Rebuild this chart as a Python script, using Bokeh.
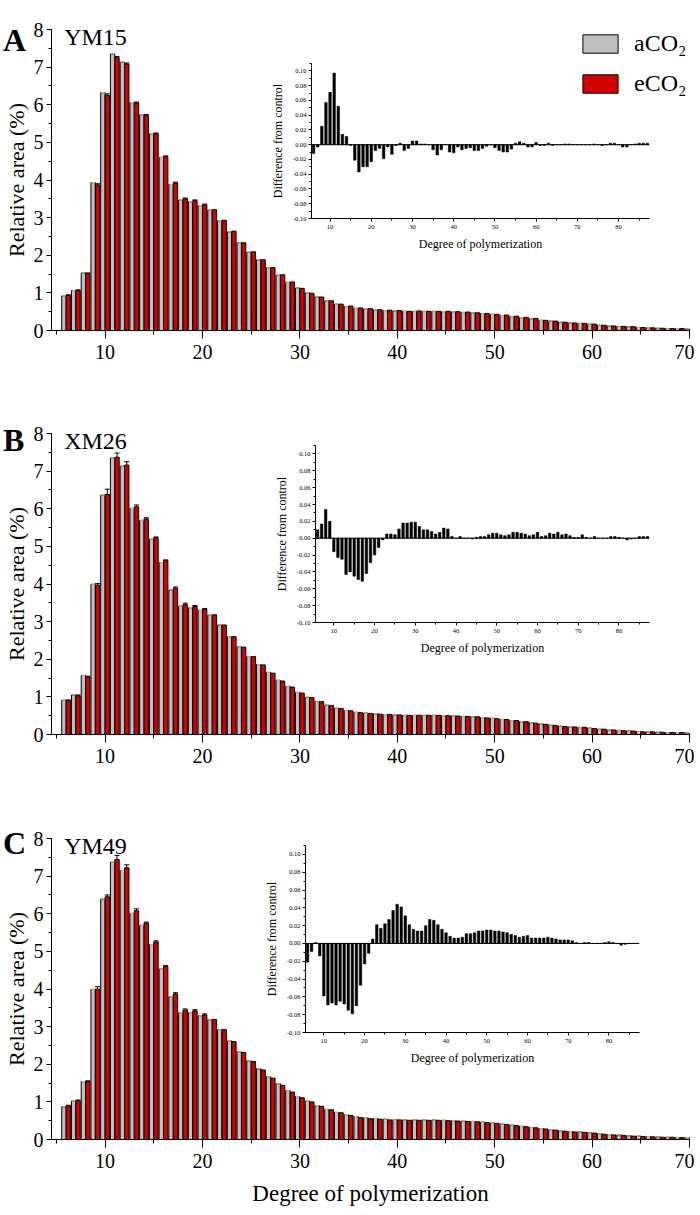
from bokeh.plotting import figure
from bokeh.models import (ColumnDataSource, Range1d, SingleIntervalTicker, NumeralTickFormatter,
                          Label, Legend, LegendItem, Span, GridBox, Whisker, TeeHead, Div)
from bokeh.transform import dodge
from bokeh.embed import file_html
from bokeh.resources import INLINE

FONT = "Liberation Serif"
GRAY = "#c0c0c0"
RED = "#d40000"

# degree of polymerization shown in the main panels / in the insets
dp = list(range(6, 71))
dp_inset = list(range(6, 88))

# relative area (%) -- panel A, YM15
A_gray = [0.92, 1.06, 1.53, 3.93, 6.32, 7.35, 7.13, 6.06, 5.73, 5.23,
          4.60, 3.88, 3.47, 3.42, 3.32, 3.20, 2.92, 2.62, 2.33, 2.08,
          1.88, 1.67, 1.47, 1.28, 1.13, 1.00, 0.89, 0.79, 0.70, 0.64,
          0.59, 0.57, 0.55, 0.53, 0.52, 0.51, 0.51, 0.51, 0.51, 0.50,
          0.49, 0.48, 0.47, 0.45, 0.43, 0.40, 0.37, 0.34, 0.31, 0.27,
          0.25, 0.22, 0.20, 0.19, 0.17, 0.14, 0.12, 0.11, 0.10, 0.08,
          0.07, 0.06, 0.05, 0.05, 0.04]
A_red = [0.93, 1.06, 1.51, 3.87, 6.25, 7.25, 7.08, 6.05, 5.72, 5.23,
         4.62, 3.92, 3.50, 3.45, 3.34, 3.21, 2.93, 2.64, 2.33, 2.09,
         1.88, 1.67, 1.48, 1.29, 1.12, 0.99, 0.89, 0.79, 0.70, 0.65,
         0.60, 0.58, 0.55, 0.54, 0.53, 0.51, 0.52, 0.51, 0.51, 0.51,
         0.50, 0.49, 0.47, 0.45, 0.43, 0.41, 0.38, 0.35, 0.32, 0.27,
         0.25, 0.22, 0.20, 0.19, 0.17, 0.14, 0.12, 0.11, 0.10, 0.08,
         0.07, 0.06, 0.05, 0.05, 0.04]
A_err = [0.02, 0.02, 0.02, 0.03, 0.04, 0.03, 0.03, 0.02, 0.02, 0.02,
         0.02, 0.02, 0.02, 0.02, 0.02]   # DP 6-20, eCO2
A_diff = [-0.012, -0.003, 0.025, 0.057, 0.071, 0.097, 0.052, 0.014, 0.011, -0.001,
          -0.021, -0.037, -0.030, -0.030, -0.023, -0.008, -0.005, -0.019, -0.003, -0.013,
          -0.001, 0.002, -0.008, -0.005, 0.005, 0.005, 0.001, 0.001, 0.000, -0.007,
          -0.014, -0.007, 0.000, -0.010, -0.011, -0.003, -0.007, -0.005, -0.004, -0.008,
          -0.008, -0.005, -0.002, 0.000, -0.004, -0.008, -0.010, -0.010, -0.006, 0.002,
          0.004, 0.002, -0.003, -0.003, 0.003, -0.001, -0.001, 0.002, -0.001, 0.000,
          0.000, 0.001, 0.001, 0.000, 0.000, 0.000, 0.000, 0.000, 0.001, 0.000,
          -0.001, 0.000, 0.002, 0.002, 0.000, -0.003, -0.003, 0.000, 0.001, 0.002,
          0.002, 0.002]

# panel B, XM26
B_gray = [0.91, 1.05, 1.57, 3.99, 6.36, 7.35, 7.13, 6.01, 5.69, 5.19,
          4.57, 3.84, 3.41, 3.37, 3.30, 3.17, 2.91, 2.60, 2.33, 2.07,
          1.86, 1.65, 1.44, 1.28, 1.12, 0.99, 0.88, 0.78, 0.70, 0.64,
          0.59, 0.57, 0.55, 0.53, 0.52, 0.51, 0.51, 0.51, 0.51, 0.50,
          0.49, 0.48, 0.47, 0.45, 0.43, 0.40, 0.37, 0.34, 0.31, 0.28,
          0.25, 0.22, 0.20, 0.19, 0.17, 0.14, 0.12, 0.11, 0.10, 0.08,
          0.07, 0.06, 0.05, 0.05, 0.04]
B_red = [0.90, 1.03, 1.53, 3.97, 6.38, 7.37, 7.16, 6.05, 5.73, 5.23,
         4.62, 3.89, 3.45, 3.40, 3.32, 3.18, 2.91, 2.60, 2.32, 2.07,
         1.85, 1.63, 1.42, 1.26, 1.10, 0.98, 0.87, 0.77, 0.69, 0.63,
         0.58, 0.56, 0.54, 0.53, 0.52, 0.51, 0.51, 0.51, 0.51, 0.50,
         0.49, 0.48, 0.47, 0.44, 0.42, 0.40, 0.37, 0.34, 0.30, 0.27,
         0.24, 0.21, 0.20, 0.19, 0.16, 0.14, 0.12, 0.10, 0.09, 0.07,
         0.07, 0.06, 0.05, 0.05, 0.04]
B_err = [0.02, 0.02, 0.02, 0.04, 0.14, 0.11, 0.09, 0.05, 0.03, 0.02,
         0.02, 0.03, 0.04, 0.03, 0.03]
B_diff = [0.010, 0.017, 0.034, 0.020, -0.016, -0.023, -0.025, -0.043, -0.040, -0.045,
          -0.049, -0.051, -0.042, -0.029, -0.020, -0.011, -0.002, 0.005, 0.005, 0.004,
          0.011, 0.018, 0.018, 0.019, 0.019, 0.014, 0.010, 0.010, 0.008, 0.005,
          0.007, 0.012, 0.011, 0.002, 0.000, 0.002, 0.000, 0.000, -0.001, 0.001,
          0.002, 0.002, 0.004, 0.006, 0.006, 0.004, 0.003, 0.004, 0.007, 0.007,
          0.006, 0.005, 0.003, 0.004, 0.007, 0.002, 0.003, 0.006, 0.005, 0.007,
          0.004, 0.005, 0.003, 0.001, 0.001, 0.004, 0.001, 0.000, 0.002, 0.000,
          0.000, 0.000, 0.002, 0.002, 0.001, 0.000, -0.002, -0.001, 0.000, 0.002,
          0.002, 0.002]

# panel C, YM49
C_gray = [0.87, 1.02, 1.54, 3.99, 6.39, 7.37, 7.15, 6.01, 5.69, 5.18,
          4.53, 3.79, 3.37, 3.37, 3.29, 3.18, 2.92, 2.62, 2.33, 2.09,
          1.88, 1.67, 1.48, 1.30, 1.14, 1.02, 0.90, 0.80, 0.72, 0.66,
          0.61, 0.58, 0.56, 0.54, 0.53, 0.52, 0.52, 0.52, 0.52, 0.51,
          0.50, 0.49, 0.48, 0.46, 0.44, 0.41, 0.38, 0.35, 0.32, 0.29,
          0.26, 0.23, 0.21, 0.20, 0.18, 0.15, 0.13, 0.12, 0.10, 0.09,
          0.08, 0.07, 0.06, 0.05, 0.05]
C_red = [0.89, 1.03, 1.54, 4.00, 6.45, 7.44, 7.22, 6.08, 5.75, 5.25,
         4.60, 3.87, 3.44, 3.42, 3.31, 3.19, 2.92, 2.60, 2.31, 2.07,
         1.85, 1.63, 1.44, 1.26, 1.11, 1.00, 0.88, 0.79, 0.71, 0.64,
         0.58, 0.55, 0.54, 0.52, 0.52, 0.51, 0.51, 0.51, 0.51, 0.50,
         0.49, 0.48, 0.47, 0.45, 0.43, 0.40, 0.37, 0.34, 0.31, 0.28,
         0.25, 0.22, 0.20, 0.19, 0.17, 0.14, 0.12, 0.11, 0.09, 0.08,
         0.07, 0.06, 0.06, 0.05, 0.05]
C_err = [0.02, 0.02, 0.02, 0.06, 0.05, 0.11, 0.08, 0.05, 0.03, 0.03,
         0.02, 0.03, 0.03, 0.03, 0.03]
C_diff = [-0.021, -0.009, 0.001, -0.014, -0.059, -0.069, -0.067, -0.069, -0.065, -0.068,
          -0.075, -0.079, -0.070, -0.047, -0.023, -0.011, 0.005, 0.021, 0.017, 0.022,
          0.027, 0.037, 0.044, 0.041, 0.031, 0.021, 0.016, 0.014, 0.014, 0.020,
          0.027, 0.026, 0.021, 0.016, 0.012, 0.008, 0.006, 0.006, 0.007, 0.011,
          0.011, 0.012, 0.014, 0.014, 0.015, 0.015, 0.014, 0.014, 0.013, 0.012,
          0.010, 0.009, 0.007, 0.008, 0.009, 0.006, 0.006, 0.006, 0.006, 0.007,
          0.006, 0.005, 0.004, 0.004, 0.004, 0.003, 0.001, 0.000, 0.001, 0.001,
          0.000, 0.000, 0.000, 0.001, 0.002, 0.001, 0.000, -0.002, -0.001, 0.000,
          0.000, 0.000]

# plots sharing a grid cell get their borders aligned, so main panel and inset use the same ones
LEFT, RIGHT = 49, 5


def style_axis(ax, tick_size, major_out, minor_out):
    ax.axis_line_color = "black"
    ax.major_tick_line_color = "black"
    ax.minor_tick_line_color = "black"
    ax.major_tick_in = 0
    ax.minor_tick_in = 0
    ax.major_tick_out = major_out
    ax.minor_tick_out = minor_out
    ax.major_label_text_font = FONT
    ax.major_label_text_font_size = tick_size
    ax.major_label_text_color = "black"
    ax.axis_label_text_font = FONT
    ax.axis_label_text_font_style = "normal"
    ax.axis_label_text_color = "black"


def main_panel(cultivar, gray, red, err, top_b, bottom_b, xlabel=None, legend=False):
    p = figure(frame_width=638, frame_height=301, x_range=Range1d(4.5, 70), y_range=Range1d(0, 8),
               output_backend="svg", toolbar_location=None, title=None,
               min_border_left=LEFT, min_border_right=RIGHT, min_border_top=top_b, min_border_bottom=bottom_b)
    p.outline_line_color = None
    p.grid.visible = False

    src = ColumnDataSource(dict(x=dp, gray=gray, red=red))
    rg = p.vbar(x=dodge("x", -0.225, range=p.x_range), top="gray", width=0.45, source=src,
                fill_color=GRAY, line_color="black", line_width=1)
    rr = p.vbar(x=dodge("x", 0.225, range=p.x_range), top="red", width=0.45, source=src,
                fill_color=RED, line_color="black", line_width=1)
    # tiny error caps on the aCO2 bars
    p.segment(x0=dodge("x", -0.40, range=p.x_range), x1=dodge("x", -0.05, range=p.x_range),
              y0="gray", y1="gray", source=src, line_color="#f4a35a", line_width=1.2)

    n = len(err)
    esrc = ColumnDataSource(dict(x=dp[:n], lower=red[:n], upper=[r + e for r, e in zip(red[:n], err)]))
    p.add_layout(Whisker(source=esrc, base=dodge("x", 0.225, range=p.x_range), lower="lower", upper="upper",
                         dimension="height", line_color="black", line_width=1,
                         upper_head=TeeHead(size=5, line_color="black"), lower_head=None))

    p.xaxis.ticker = SingleIntervalTicker(interval=10, num_minor_ticks=2)
    p.yaxis.ticker = SingleIntervalTicker(interval=1, num_minor_ticks=2)
    style_axis(p.xaxis[0], "20px", 8, 4)
    style_axis(p.yaxis[0], "20px", 5, 3)
    p.xaxis.major_label_standoff = 6
    p.yaxis.major_label_standoff = 3
    p.yaxis.axis_label = "Relative area (%)"
    p.yaxis.axis_label_text_font_size = "22px"
    p.yaxis.axis_label_standoff = 2
    if xlabel:
        p.xaxis.axis_label = xlabel
        p.xaxis.axis_label_text_font_size = "23px"
        p.xaxis.axis_label_standoff = 10

    p.add_layout(Label(x=5.8, y=8, y_offset=6, text=cultivar, text_baseline="top",
                       text_font=FONT, text_font_size="24px", text_color="black"))

    if legend:
        leg = Legend(items=[LegendItem(label="aCO₂", renderers=[rg]), LegendItem(label="eCO₂", renderers=[rr])],
                     location=(527, 233), orientation="vertical", padding=0, spacing=13, margin=0,
                     glyph_width=44, glyph_height=23, label_height=23, label_standoff=12,
                     label_text_font=FONT, label_text_font_size="24px", label_text_color="black",
                     border_line_alpha=0, background_fill_alpha=0)
        p.add_layout(leg)
    return p


def inset_panel(diff, fw, fh, top_b, bottom_b, margin):
    q = figure(frame_width=fw, frame_height=fh, x_range=Range1d(5.5, 87.5), y_range=Range1d(-0.10, 0.11),
               output_backend="svg", toolbar_location=None, title=None,
               min_border_left=LEFT, min_border_right=RIGHT, min_border_top=top_b, min_border_bottom=bottom_b)
    q.margin = margin
    q.outline_line_color = None
    q.grid.visible = False
    q.background_fill_alpha = 0
    q.border_fill_alpha = 0
    q.vbar(x=dp_inset, top=diff, width=0.62, fill_color="black", line_color="black", line_width=0.5)
    q.add_layout(Span(location=0, dimension="width", line_color="black", line_width=1))
    q.xaxis.ticker = SingleIntervalTicker(interval=10, num_minor_ticks=2)
    q.yaxis.ticker = SingleIntervalTicker(interval=0.02, num_minor_ticks=2)
    q.yaxis.formatter = NumeralTickFormatter(format="0.00")
    style_axis(q.xaxis[0], "6.5px", 3, 2)
    style_axis(q.yaxis[0], "6.5px", 3, 2)
    q.xaxis.major_label_standoff = 3
    q.yaxis.major_label_standoff = 2
    q.xaxis.axis_label = "Degree of polymerization"
    q.yaxis.axis_label = "Difference from control"
    q.xaxis.axis_label_text_font_size = "12px"
    q.yaxis.axis_label_text_font_size = "12px"
    q.xaxis.axis_label_standoff = 5
    q.yaxis.axis_label_standoff = 5
    return q


def panel_letter(text, top):
    return Div(text=text, width=28, height=34, margin=(top, 0, 0, 3),
               styles={"font-family": FONT, "font-size": "32px", "font-weight": "bold",
                       "line-height": "1", "color": "black"})


pA = main_panel("YM15", A_gray, A_red, A_err, 29, 74, legend=True)
pB = main_panel("XM26", B_gray, B_red, B_err, 29, 74)
pC = main_panel("YM49", C_gray, C_red, C_err, 30, 76, xlabel="Degree of polymerization")

iA = inset_panel(A_diff, 338, 155, 29, 74, (34, 0, 0, 260))
iB = inset_panel(B_diff, 334, 177, 29, 74, (12, 0, 0, 264))
iC = inset_panel(C_diff, 334, 187, 30, 76, (7, 0, 0, 254))

grid = GridBox(children=[(pA, 0, 0), (iA, 0, 0), (panel_letter("A", 24), 0, 0),
                         (pB, 1, 0), (iB, 1, 0), (panel_letter("B", 20), 1, 0),
                         (pC, 2, 0), (iC, 2, 0), (panel_letter("C", 19), 2, 0)])

open("out.html", "w").write(file_html(grid, INLINE))
